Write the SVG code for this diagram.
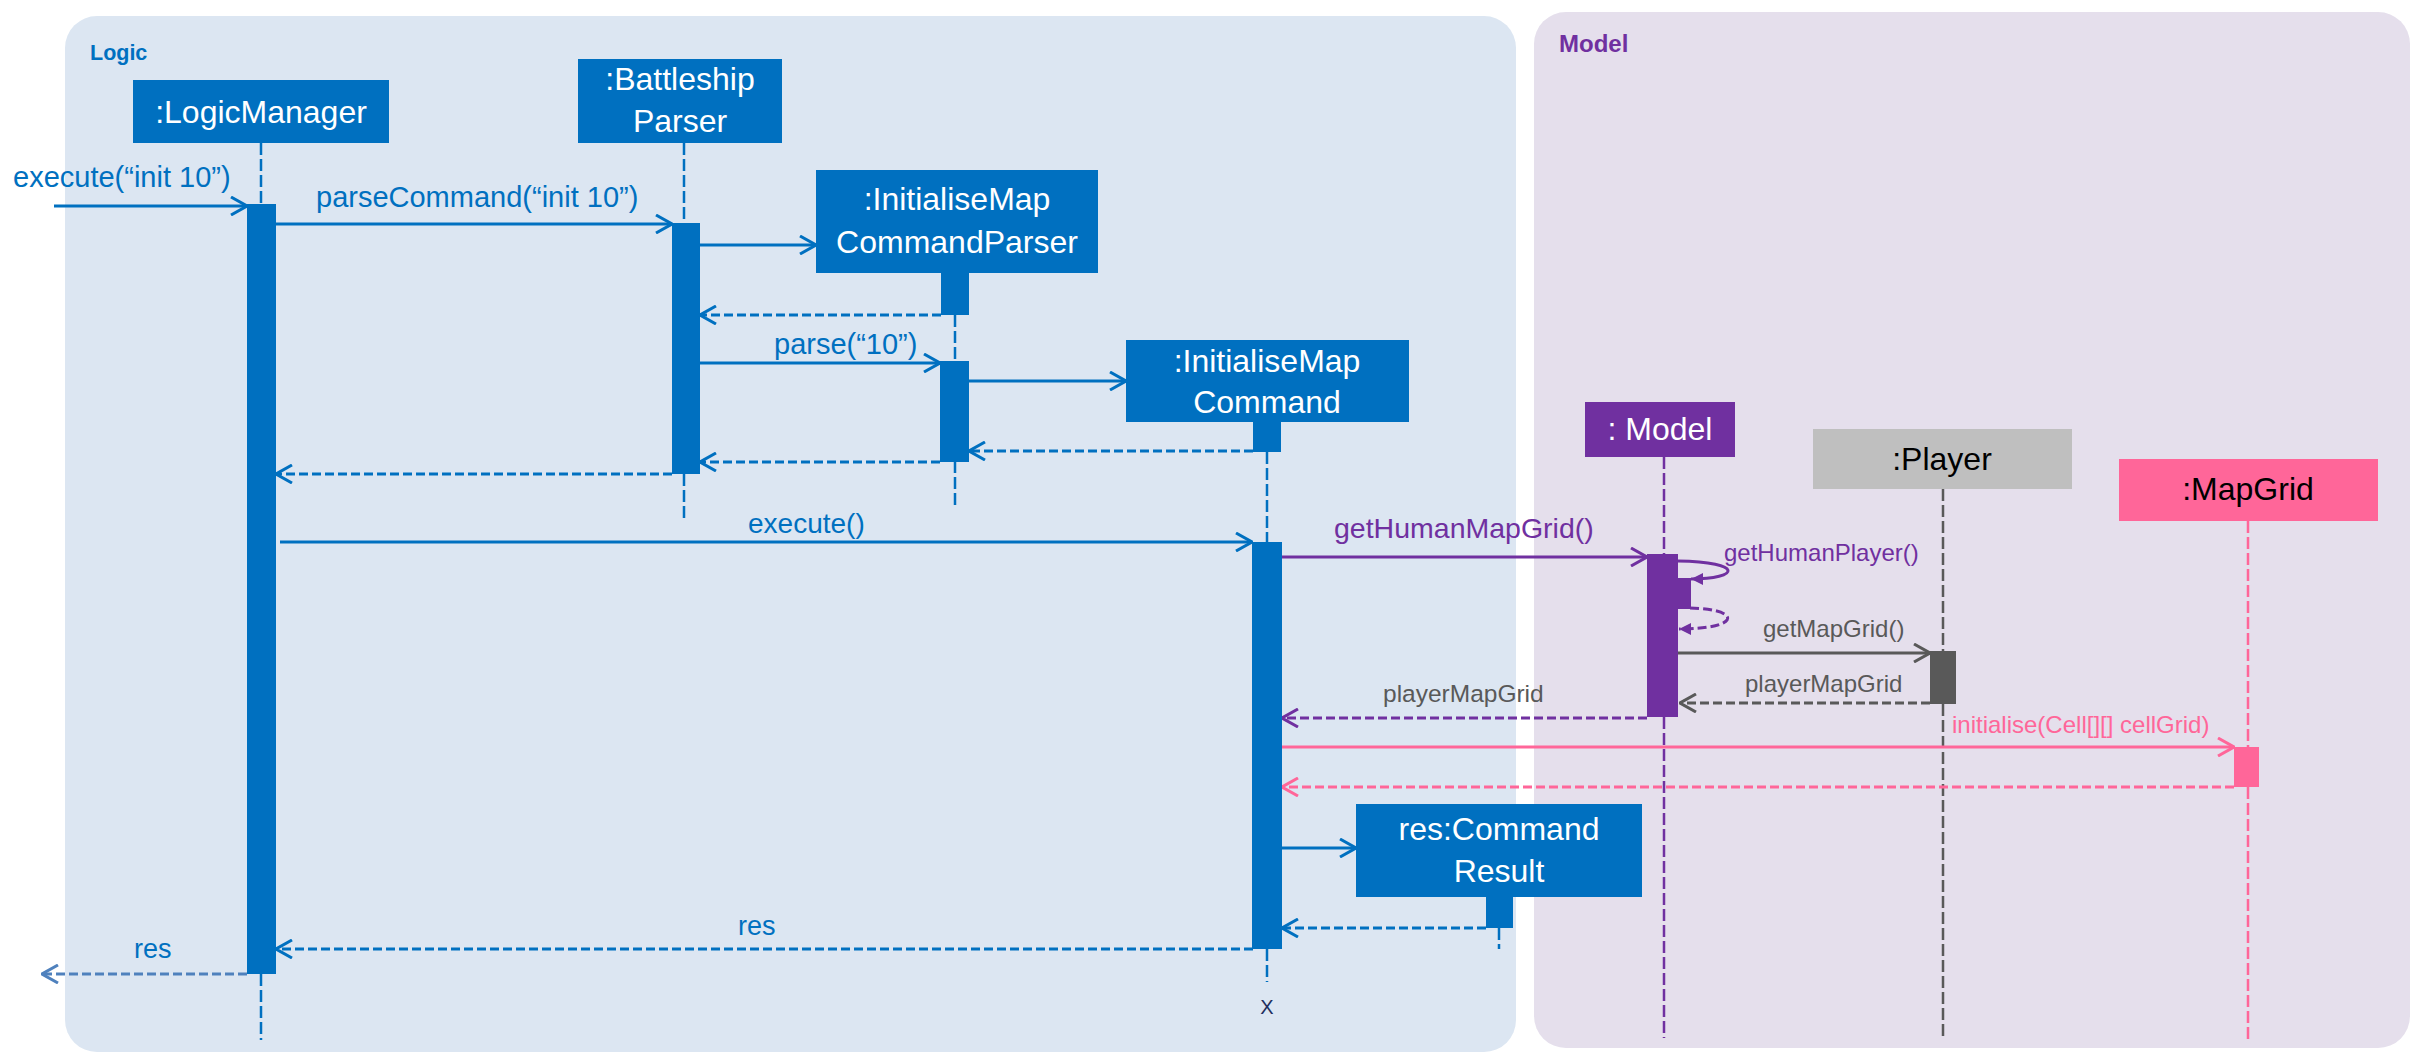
<svg xmlns="http://www.w3.org/2000/svg" width="2417" height="1055" viewBox="0 0 2417 1055">
<style>
text{font-family:"Liberation Sans",Arial,sans-serif}
.node{font-size:32px;text-anchor:middle}
.w{fill:#fff}
.k{fill:#000}
.lbl{font-size:29px}
.sm{font-size:24px}
.blue{fill:#0070C0}
.purp{fill:#7030A0}
.gray{fill:#595959}
.pink{fill:#FF6699}
.ll{fill:none;stroke-width:2.5;stroke-dasharray:12 4}
.msg{fill:none;stroke-width:3}
.ret{fill:none;stroke-width:3;stroke-dasharray:9 4}
.sb{stroke:#0070C0}
.sp{stroke:#7030A0}
.sg{stroke:#595959}
.sk{stroke:#FF6699}
.sl{stroke:#4F81BD}
</style>
<defs>
<marker id="aB" viewBox="0 0 18 20" refX="17" refY="10" markerWidth="18" markerHeight="20" markerUnits="userSpaceOnUse" orient="auto"><path d="M1,1 L17,10 L1,19" fill="none" stroke="#0070C0" stroke-width="3" stroke-dasharray="none"/></marker>
<marker id="aL" viewBox="0 0 18 20" refX="17" refY="10" markerWidth="18" markerHeight="20" markerUnits="userSpaceOnUse" orient="auto"><path d="M1,1 L17,10 L1,19" fill="none" stroke="#4F81BD" stroke-width="3" stroke-dasharray="none"/></marker>
<marker id="aP" viewBox="0 0 18 20" refX="17" refY="10" markerWidth="18" markerHeight="20" markerUnits="userSpaceOnUse" orient="auto"><path d="M1,1 L17,10 L1,19" fill="none" stroke="#7030A0" stroke-width="3" stroke-dasharray="none"/></marker>
<marker id="aG" viewBox="0 0 18 20" refX="17" refY="10" markerWidth="18" markerHeight="20" markerUnits="userSpaceOnUse" orient="auto"><path d="M1,1 L17,10 L1,19" fill="none" stroke="#595959" stroke-width="3" stroke-dasharray="none"/></marker>
<marker id="aK" viewBox="0 0 18 20" refX="17" refY="10" markerWidth="18" markerHeight="20" markerUnits="userSpaceOnUse" orient="auto"><path d="M1,1 L17,10 L1,19" fill="none" stroke="#FF6699" stroke-width="3" stroke-dasharray="none"/></marker>
<marker id="fP" viewBox="0 0 12 12" refX="12" refY="6" markerWidth="12" markerHeight="12" markerUnits="userSpaceOnUse" orient="auto"><polygon points="0,0 12,6 0,12" fill="#7030A0"/></marker>
</defs>

<g id="panels">
<rect x="65" y="16" width="1451" height="1036" rx="32" ry="32" fill="#DCE6F2"/>
<rect x="1534" y="12" width="876" height="1036" rx="32" ry="32" fill="#E5DFEC"/>
<text x="90" y="60" font-size="21.5" font-weight="bold" fill="#0070C0">Logic</text>
<text x="1559" y="52" font-size="24" font-weight="bold" fill="#7030A0">Model</text>
</g>

<g id="lifelines">
<path class="ll sb" d="M261,143 V204 M261,974 V1040"/>
<path class="ll sb" d="M684,143 V223 M684,474 V520"/>
<path class="ll sb" d="M955,315 V361 M955,461 V508"/>
<path class="ll sb" d="M1267,452 V542 M1267,949 V982"/>
<path class="ll sb" d="M1499,928 V949"/>
<path class="ll sp" d="M1664,457 V554 M1664,717 V1038"/>
<path class="ll sg" d="M1943,489 V651 M1943,704 V1037"/>
<path class="ll sk" d="M2248,521 V747 M2248,787 V1040"/>
</g>

<g id="connectors">
<path class="msg sb" d="M54,206 H247" marker-end="url(#aB)"/>
<path class="msg sb" d="M276,224 H672" marker-end="url(#aB)"/>
<path class="msg sb" d="M700,245 H816" marker-end="url(#aB)"/>
<path class="ret sb" d="M941,315 H700" marker-end="url(#aB)"/>
<path class="msg sb" d="M700,363 H940" marker-end="url(#aB)"/>
<path class="msg sb" d="M969,381 H1126" marker-end="url(#aB)"/>
<path class="ret sb" d="M1253,451 H969" marker-end="url(#aB)"/>
<path class="ret sb" d="M940,462 H700" marker-end="url(#aB)"/>
<path class="ret sb" d="M672,474 H276" marker-end="url(#aB)"/>
<path class="msg sb" d="M280,542 H1252" marker-end="url(#aB)"/>
<path class="msg sp" d="M1282,557 H1647" marker-end="url(#aP)"/>
<path class="msg sp" d="M1678,561 C1745,562 1740,579 1691,579" stroke-width="2.5" marker-end="url(#fP)"/>
<path class="ret sp" d="M1690,608 C1742,609 1742,629 1679,629" stroke-width="2.5" stroke-dasharray="7 4" marker-end="url(#fP)"/>
<path class="msg sg" d="M1678,653 H1930" marker-end="url(#aG)"/>
<path class="ret sg" d="M1930,703 H1680" marker-end="url(#aG)"/>
<path class="ret sp" d="M1647,718 H1282" marker-end="url(#aP)"/>
<path class="msg sk" d="M1282,747 H2234" marker-end="url(#aK)"/>
<path class="ret sk" d="M2234,787 H1282" marker-end="url(#aK)"/>
<path class="msg sb" d="M1282,848 H1356" marker-end="url(#aB)"/>
<path class="ret sb" d="M1486,928 H1282" marker-end="url(#aB)"/>
<path class="ret sb" d="M1253,949 H276" marker-end="url(#aB)"/>
<path class="ret sl" d="M247,974 H42" marker-end="url(#aL)"/>
</g>

<g id="labels">
<text class="lbl blue" x="13" y="187">execute(“init 10”)</text>
<text class="lbl blue" x="316" y="207">parseCommand(“init 10”)</text>
<text class="lbl blue" x="774" y="354">parse(“10”)</text>
<text class="blue" x="748" y="533" font-size="28">execute()</text>
<text class="purp" x="1334" y="538" font-size="28.5">getHumanMapGrid()</text>
<text class="sm purp" x="1724" y="561">getHumanPlayer()</text>
<text class="sm gray" x="1763" y="637">getMapGrid()</text>
<text class="sm gray" x="1745" y="692">playerMapGrid</text>
<text class="gray" x="1383" y="702" font-size="24.5">playerMapGrid</text>
<text class="sm pink" x="1952" y="733">initialise(Cell[][] cellGrid)</text>
<text class="blue" x="738" y="935" font-size="27">res</text>
<text class="blue" x="134" y="958" font-size="27">res</text>
<text x="1267" y="1014" font-size="20" text-anchor="middle" fill="#1F2F5F">X</text>
</g>

<g id="LogicManager">
<rect x="133" y="80" width="256" height="63" fill="#0070C0"/>
<text class="node w" x="261" y="123">:LogicManager</text>
<rect x="247" y="204" width="29" height="770" fill="#0070C0"/>
</g>

<g id="BattleshipParser">
<rect x="578" y="59" width="204" height="84" fill="#0070C0"/>
<text class="node w" x="680" y="90">:Battleship</text>
<text class="node w" x="680" y="132">Parser</text>
<rect x="672" y="223" width="28" height="251" fill="#0070C0"/>
</g>

<g id="InitialiseMapCommandParser">
<rect x="816" y="170" width="282" height="103" fill="#0070C0"/>
<text class="node w" x="957" y="210">:InitialiseMap</text>
<text class="node w" x="957" y="253">CommandParser</text>
<rect x="941" y="273" width="28" height="42" fill="#0070C0"/>
<rect x="940" y="361" width="29" height="101" fill="#0070C0"/>
</g>

<g id="InitialiseMapCommand">
<rect x="1126" y="340" width="283" height="82" fill="#0070C0"/>
<text class="node w" x="1267" y="372">:InitialiseMap</text>
<text class="node w" x="1267" y="413">Command</text>
<rect x="1253" y="422" width="28" height="30" fill="#0070C0"/>
<rect x="1252" y="542" width="30" height="407" fill="#0070C0"/>
</g>

<g id="CommandResult">
<rect x="1356" y="804" width="286" height="93" fill="#0070C0"/>
<text class="node w" x="1499" y="840">res:Command</text>
<text class="node w" x="1499" y="882">Result</text>
<rect x="1486" y="897" width="27" height="31" fill="#0070C0"/>
</g>

<g id="Model">
<rect x="1585" y="402" width="150" height="55" fill="#7030A0"/>
<text class="node w" x="1660" y="440">: Model</text>
<rect x="1647" y="554" width="31" height="163" fill="#7030A0"/>
<rect x="1678" y="578" width="13" height="31" fill="#7030A0"/>
</g>

<g id="Player">
<rect x="1813" y="429" width="259" height="60" fill="#BFBFBF"/>
<text class="node k" x="1942" y="470">:Player</text>
<rect x="1930" y="651" width="26" height="53" fill="#595959"/>
</g>

<g id="MapGrid">
<rect x="2119" y="459" width="259" height="62" fill="#FF6699"/>
<text class="node k" x="2248" y="500">:MapGrid</text>
<rect x="2234" y="747" width="25" height="40" fill="#FF6699"/>
</g>
</svg>
